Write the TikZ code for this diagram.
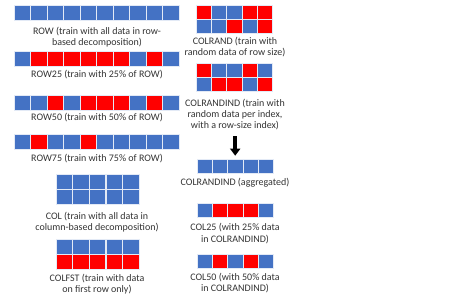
\documentclass[tikz,border=0pt]{standalone}
\usepackage{fontspec}
\setmainfont{Carlito}
\usetikzlibrary{arrows.meta}
\definecolor{cellB}{HTML}{4472C4}
\definecolor{cellR}{HTML}{FF0000}
\begin{document}
\begin{tikzpicture}[
	x=1pt, y=-1pt,
	font=\fontsize{10}{11.2}\selectfont,
	cell/.style={draw=white!85!cellB, line width=0.6pt, minimum width=16.5pt, minimum height=15pt, inner sep=0pt},
	rcell/.style={cell, minimum width=15.3pt, minimum height=14pt},
	lbl/.style={align=center, inner sep=1pt, text=black!80},
	arr/.style={-{Triangle[width=10pt,length=7pt]}, line width=4pt, black}
]
\useasboundingbox (0,0) rectangle (449,296);

% 左列：行分解
\foreach \c [count=\i from 0] in {cellB,cellB,cellB,cellB,cellB,cellB,cellB,cellB,cellB,cellB}
	\node[cell, fill=\c] (row-\i) at (22.25+16.5*\i, 12.5) {};
\node[lbl] (rowL) at (97,37.5) {ROW (train with all data in row-\\based decomposition)};

\foreach \c [count=\i from 0] in {cellB,cellR,cellR,cellR,cellR,cellR,cellR,cellB,cellR,cellB}
	\node[cell, fill=\c] (rowa-\i) at (22.25+16.5*\i, 58.5) {};
\node[lbl] (rowaL) at (97,75) {ROW25 (train with 25\% of ROW)};

\foreach \c [count=\i from 0] in {cellB,cellB,cellR,cellB,cellR,cellR,cellR,cellB,cellR,cellB}
	\node[cell, fill=\c] (rowb-\i) at (22.25+16.5*\i, 103) {};
\node[lbl] (rowbL) at (97,118) {ROW50 (train with 50\% of ROW)};

\foreach \c [count=\i from 0] in {cellB,cellR,cellB,cellB,cellR,cellB,cellB,cellB,cellB,cellB}
	\node[cell, fill=\c] (rowc-\i) at (22.25+16.5*\i, 141.5) {};
\node[lbl] (rowcL) at (97,159) {ROW75 (train with 75\% of ROW)};

% 左列：列分解
\foreach \i in {0,...,4} {
	\node[cell, fill=cellB] (col-t\i) at (64.3+16.6*\i, 181.75) {};
	\node[cell, fill=cellB] (col-b\i) at (64.3+16.6*\i, 197.25) {};
}
\node[lbl] (colL) at (97,222.5) {COL (train with all data in\\column-based decomposition)};

\foreach \i in {0,...,4} {
	\node[cell, fill=cellB] (fst-t\i) at (64.3+16.6*\i, 246.75) {};
	\node[cell, fill=cellR] (fst-b\i) at (64.3+16.6*\i, 262.25) {};
}
\node[lbl] (fstL) at (97,284) {COLFST (train with data\\on first row only)};

% 右列：随机列
\foreach \c [count=\i from 0] in {cellR,cellB,cellB,cellR,cellR}
	\node[rcell, fill=\c] (rand-t\i) at (203.6+15.3*\i, 12) {};
\foreach \c [count=\i from 0] in {cellB,cellB,cellR,cellB,cellR}
	\node[rcell, fill=\c] (rand-b\i) at (203.6+15.3*\i, 26) {};
\node[lbl] (randL) at (235,47) {COLRAND (train with\\random data of row size)};

\foreach \c [count=\i from 0] in {cellR,cellB,cellB,cellR,cellB}
	\node[rcell, fill=\c] (ind-t\i) at (203.6+15.3*\i, 70) {};
\foreach \c [count=\i from 0] in {cellB,cellR,cellR,cellB,cellR}
	\node[rcell, fill=\c] (ind-b\i) at (203.6+15.3*\i, 84) {};
\node[lbl] (indL) at (235,114.5) {COLRANDIND (train with\\random data per index,\\with a row-size index)};

\foreach \i in {0,...,4}
	\node[rcell, fill=cellB] (agg-\i) at (204.6+15.3*\i, 166) {};
\node[lbl] (aggL) at (235,183) {COLRANDIND (aggregated)};

\foreach \c [count=\i from 0] in {cellB,cellR,cellR,cellR,cellB}
	\node[rcell, fill=\c] (cola-\i) at (204.6+15.3*\i, 210) {};
\node[lbl] (colaL) at (235,233.5) {COL25 (with 25\% data\\in COLRANDIND)};

\foreach \c [count=\i from 0] in {cellB,cellR,cellB,cellR,cellB}
	\node[rcell, fill=\c] (colb-\i) at (204.6+15.3*\i, 261) {};
\node[lbl] (colbL) at (235,283) {COL50 (with 50\% data\\in COLRANDIND)};

% 箭头
\draw[arr, shorten <=5pt, shorten >=3pt] (indL.south -| agg-2.north) -- (agg-2.north);
\end{tikzpicture}
\end{document}
